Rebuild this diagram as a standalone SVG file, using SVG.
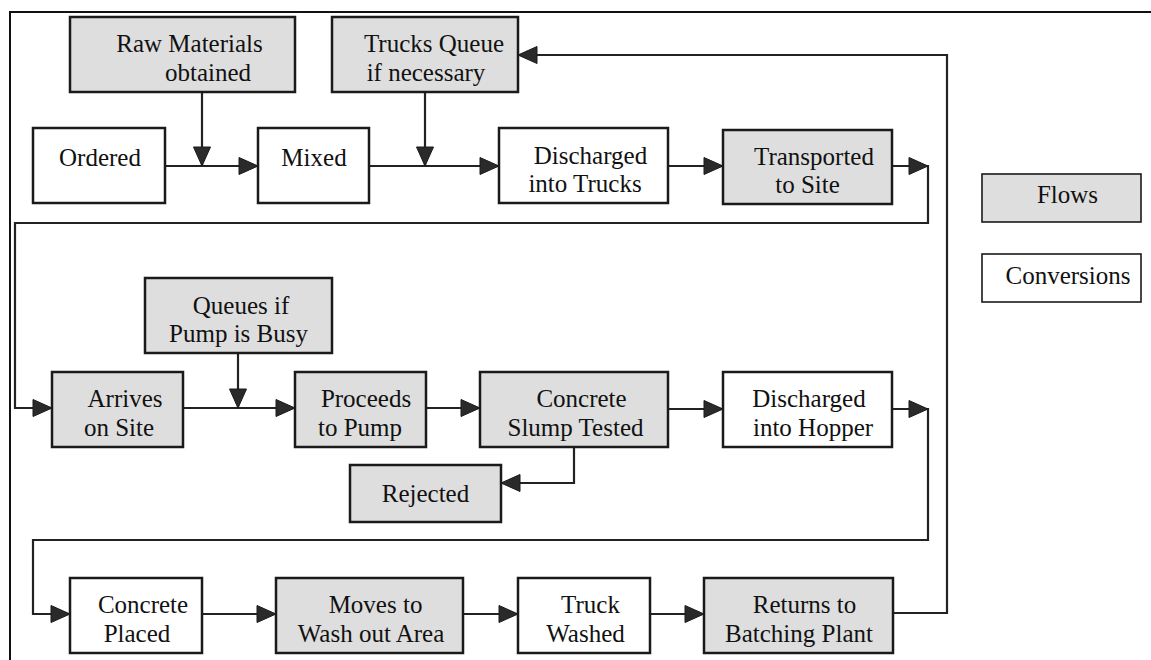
<svg xmlns="http://www.w3.org/2000/svg" xmlns:xlink="http://www.w3.org/1999/xlink" width="1151" height="660" viewBox="0 0 1151 660">
  <style>
    .box { stroke: #1a1a1a; stroke-width: 2.5; }
    .flow { fill: #dedede; }
    .conv { fill: #ffffff; }
    .legend { stroke-width: 1.6; }
    .lbl { font-family: 'Liberation Serif', 'DejaVu Serif', serif; font-size: 25px; fill: #111; text-anchor: middle; }
    .wire { fill: none; stroke: #222; stroke-width: 2.2; stroke-linejoin: miter; }
    .frame { fill: none; stroke: #111; stroke-width: 2; }
    .head { fill: #2a2a2a; stroke: #1a1a1a; stroke-width: 1; }
  </style>
  <defs>
    <!-- arrowhead pointing right, tip at the origin -->
    <path id="ah" d="M0,0 L-19,-8.5 L-19,8.5 Z"/>
  </defs>
  <rect width="1151" height="660" fill="#ffffff"/>

  <!-- outer frame (top and left edges) -->
  <path class="frame" d="M10,660 V12 H1151"/>

  <!-- connectors -->
  <g id="connectors">
    <path class="wire" d="M165,166 H258"/>
    <path class="wire" d="M202,92 V166"/>
    <path class="wire" d="M369,166 H499"/>
    <path class="wire" d="M425,92 V166"/>
    <path class="wire" d="M668,166 H723"/>
    <path class="wire" d="M892,166 H928 V223 H15 V408 H52"/>
    <path class="wire" d="M183,408 H295"/>
    <path class="wire" d="M238,353 V408"/>
    <path class="wire" d="M426,408 H480"/>
    <path class="wire" d="M668,409 H723"/>
    <path class="wire" d="M892,409 H928 V540 H33 V614 H70"/>
    <path class="wire" d="M574,447 V483 H501"/>
    <path class="wire" d="M202,614 H276"/>
    <path class="wire" d="M463,614 H518"/>
    <path class="wire" d="M650,614 H704"/>
    <path class="wire" d="M893,613 H947 V55 H518"/>

    <g class="head">
      <use xlink:href="#ah" transform="translate(258,166)"/>
      <use xlink:href="#ah" transform="translate(202,166) rotate(90)"/>
      <use xlink:href="#ah" transform="translate(499,166)"/>
      <use xlink:href="#ah" transform="translate(425,166) rotate(90)"/>
      <use xlink:href="#ah" transform="translate(723,166)"/>
      <use xlink:href="#ah" transform="translate(928,166)"/>
      <use xlink:href="#ah" transform="translate(52,408)"/>
      <use xlink:href="#ah" transform="translate(238,408) rotate(90)"/>
      <use xlink:href="#ah" transform="translate(295,408)"/>
      <use xlink:href="#ah" transform="translate(480,408)"/>
      <use xlink:href="#ah" transform="translate(723,409)"/>
      <use xlink:href="#ah" transform="translate(928,409)"/>
      <use xlink:href="#ah" transform="translate(501,483) rotate(180)"/>
      <use xlink:href="#ah" transform="translate(70,614)"/>
      <use xlink:href="#ah" transform="translate(276,614)"/>
      <use xlink:href="#ah" transform="translate(518,614)"/>
      <use xlink:href="#ah" transform="translate(704,614)"/>
      <use xlink:href="#ah" transform="translate(518,55) rotate(180)"/>
    </g>
  </g>

  <!-- row 1 -->
  <g id="raw-materials">
    <rect class="box flow" x="70" y="17" width="225" height="75"/>
    <text class="lbl" x="189.5" y="52">Raw Materials</text>
    <text class="lbl" x="208" y="81">obtained</text>
  </g>
  <g id="trucks-queue">
    <rect class="box flow" x="332" y="17" width="186" height="75"/>
    <text class="lbl" x="434" y="52">Trucks Queue</text>
    <text class="lbl" x="426" y="81">if necessary</text>
  </g>
  <g id="ordered">
    <rect class="box conv" x="33" y="128" width="132" height="75"/>
    <text class="lbl" x="100" y="166">Ordered</text>
  </g>
  <g id="mixed">
    <rect class="box conv" x="258" y="128" width="111" height="75"/>
    <text class="lbl" x="314" y="166">Mixed</text>
  </g>
  <g id="discharged-trucks">
    <rect class="box conv" x="499" y="128" width="169" height="75"/>
    <text class="lbl" x="590.5" y="164">Discharged</text>
    <text class="lbl" x="585" y="192">into Trucks</text>
  </g>
  <g id="transported">
    <rect class="box flow" x="723" y="130" width="169" height="74"/>
    <text class="lbl" x="814" y="165">Transported</text>
    <text class="lbl" x="807.5" y="193">to Site</text>
  </g>

  <!-- legend -->
  <g id="legend-flows">
    <rect class="box flow legend" x="982" y="174" width="159" height="48"/>
    <text class="lbl" x="1067.5" y="203">Flows</text>
  </g>
  <g id="legend-conversions">
    <rect class="box conv legend" x="982" y="254" width="159" height="48"/>
    <text class="lbl" x="1068" y="284">Conversions</text>
  </g>

  <!-- row 2 -->
  <g id="queues-pump">
    <rect class="box flow" x="145" y="278" width="187" height="75"/>
    <text class="lbl" x="241" y="314">Queues if</text>
    <text class="lbl" x="238.5" y="342">Pump is Busy</text>
  </g>
  <g id="arrives">
    <rect class="box flow" x="52" y="372" width="131" height="75"/>
    <text class="lbl" x="125" y="407">Arrives</text>
    <text class="lbl" x="119" y="436">on Site</text>
  </g>
  <g id="proceeds">
    <rect class="box flow" x="295" y="372" width="131" height="75"/>
    <text class="lbl" x="366" y="407">Proceeds</text>
    <text class="lbl" x="360" y="436">to Pump</text>
  </g>
  <g id="slump-tested">
    <rect class="box flow" x="480" y="372" width="188" height="75"/>
    <text class="lbl" x="581.5" y="407">Concrete</text>
    <text class="lbl" x="575.5" y="436">Slump Tested</text>
  </g>
  <g id="discharged-hopper">
    <rect class="box conv" x="723" y="372" width="169" height="75"/>
    <text class="lbl" x="809" y="407">Discharged</text>
    <text class="lbl" x="813" y="436">into Hopper</text>
  </g>
  <g id="rejected">
    <rect class="box flow" x="350" y="465" width="151" height="57"/>
    <text class="lbl" x="425.5" y="502">Rejected</text>
  </g>

  <!-- row 3 -->
  <g id="concrete-placed">
    <rect class="box conv" x="70" y="578" width="132" height="75"/>
    <text class="lbl" x="143" y="613">Concrete</text>
    <text class="lbl" x="137" y="642">Placed</text>
  </g>
  <g id="moves-washout">
    <rect class="box flow" x="276" y="578" width="187" height="75"/>
    <text class="lbl" x="375.5" y="613">Moves to</text>
    <text class="lbl" x="371" y="642">Wash out Area</text>
  </g>
  <g id="truck-washed">
    <rect class="box conv" x="518" y="578" width="132" height="75"/>
    <text class="lbl" x="590.5" y="613">Truck</text>
    <text class="lbl" x="585.5" y="642">Washed</text>
  </g>
  <g id="returns">
    <rect class="box flow" x="704" y="578" width="189" height="75"/>
    <text class="lbl" x="804.5" y="613">Returns to</text>
    <text class="lbl" x="799" y="642">Batching Plant</text>
  </g>
</svg>
